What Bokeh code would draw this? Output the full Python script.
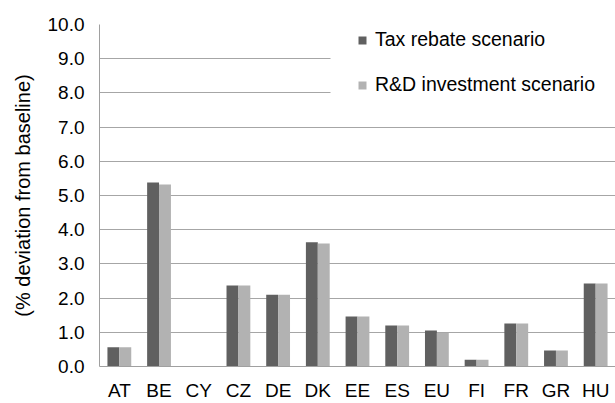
from bokeh.plotting import figure
from bokeh.models import ColumnDataSource, FactorRange, Legend, LegendItem, BoxAnnotation, SingleIntervalTicker, NumeralTickFormatter
from bokeh.transform import dodge
from bokeh.embed import file_html
from bokeh.resources import INLINE

countries = ["AT", "BE", "CY", "CZ", "DE", "DK", "EE", "ES", "EU", "FI", "FR", "GR", "HU"]
tax_rebate = [0.56, 5.38, 0.0, 2.37, 2.1, 3.63, 1.46, 1.2, 1.05, 0.2, 1.26, 0.47, 2.43]
rd_invest = [0.56, 5.32, 0.0, 2.37, 2.1, 3.6, 1.46, 1.2, 0.98, 0.2, 1.26, 0.47, 2.43]
series_names = ["Tax rebate scenario", "R&D investment scenario"]
colors = ["#606060", "#b2b2b2"]
y_ticks_step = 1.0

src = ColumnDataSource(dict(c=countries, t=tax_rebate, r=rd_invest))

FONT = "Liberation Sans"

p = figure(width=615, height=403, x_range=FactorRange(*countries, range_padding=0),
           y_range=(0, 10), output_backend="svg", toolbar_location=None,
           min_border_left=99, min_border_right=0, min_border_top=24, min_border_bottom=37)
p.outline_line_color = None

r1 = p.vbar(x=dodge("c", -0.15, range=p.x_range), top="t", width=0.3, source=src,
            fill_color=colors[0], line_color=None)
r2 = p.vbar(x=dodge("c", 0.15, range=p.x_range), top="r", width=0.3, source=src,
            fill_color=colors[1], line_color=None)

p.yaxis.ticker = SingleIntervalTicker(interval=y_ticks_step)
p.yaxis.formatter = NumeralTickFormatter(format="0.0")
for ax in (p.xaxis, p.yaxis):
    ax.major_tick_line_color = None
    ax.minor_tick_line_color = None
    ax.major_tick_out = 0
    ax.major_tick_in = 0
    ax.minor_tick_out = 0
    ax.minor_tick_in = 0
    ax.axis_line_color = "#a0a0a0"
    ax.major_label_text_font = FONT
    ax.major_label_text_font_size = "19px"
    ax.major_label_text_color = "#000000"
p.yaxis.major_label_standoff = 15
p.xaxis.major_label_standoff = 13
p.yaxis.axis_label = "(% deviation from baseline)"
p.yaxis.axis_label_text_font = FONT
p.yaxis.axis_label_text_font_size = "20px"
p.yaxis.axis_label_text_font_style = "normal"
p.yaxis.axis_label_text_color = "#000000"
p.yaxis.axis_label_standoff = 11

p.xgrid.grid_line_color = None
p.ygrid.grid_line_color = "#a6a6a6"
p.ygrid.grid_line_width = 1

box = BoxAnnotation(left=5.82, right=13, bottom=7.5, top=10.5,
                    fill_color="white", fill_alpha=1.0, line_color=None)
p.add_layout(box)

legend = Legend(items=[LegendItem(label=series_names[0], renderers=[r1]),
                       LegendItem(label=series_names[1], renderers=[r2])],
                location=(258, 270), orientation="vertical",
                glyph_width=10, glyph_height=10, label_height=22, spacing=22,
                label_standoff=8, padding=0, margin=0,
                border_line_color=None, background_fill_alpha=0,
                label_text_font=FONT, label_text_font_size="19.5px",
                label_text_color="#000000")
p.add_layout(legend)

open("out.html", "w").write(file_html(p, INLINE))
